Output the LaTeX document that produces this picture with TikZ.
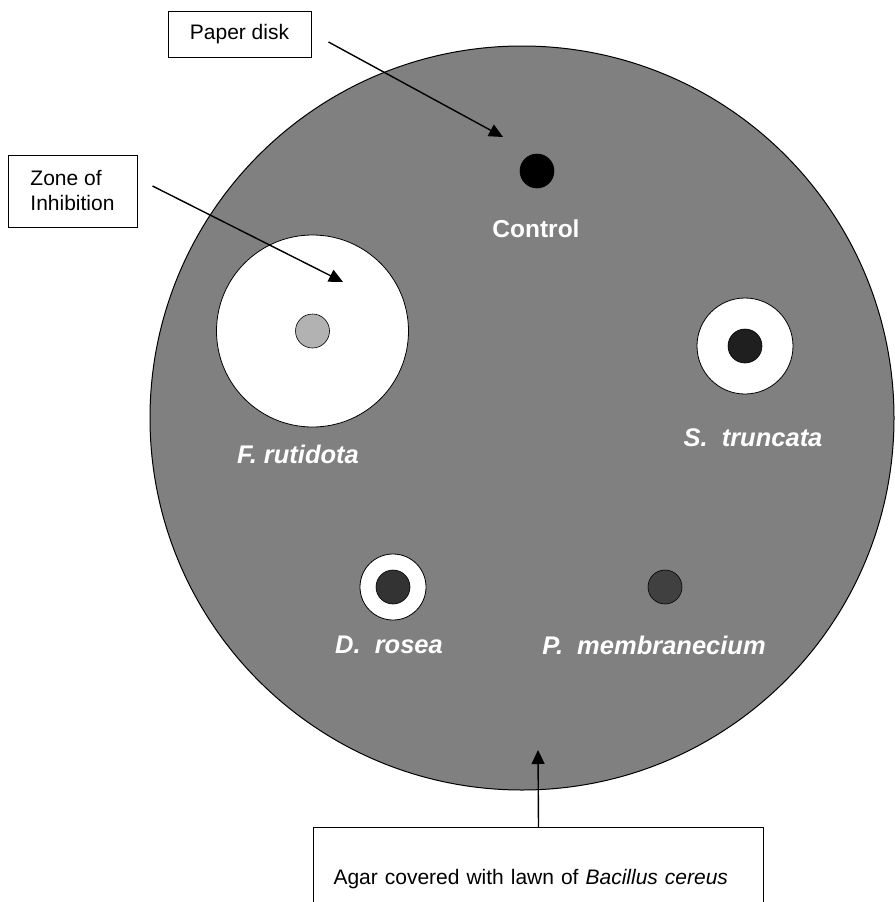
\documentclass[tikz,border=0pt]{standalone}
\usepackage{fontspec}
\setmainfont{Liberation Sans}
\usepackage{tikz}
\usetikzlibrary{arrows.meta,positioning}
\definecolor{agar}{gray}{0.5}

\begin{document}
\begin{tikzpicture}[x=1pt,y=-1pt,
  plate/.style={circle,draw=black,line width=1pt,fill=agar,inner sep=0pt},
  zone/.style={circle,draw=black,line width=0.8pt,fill=white,inner sep=0pt},
  disk/.style={circle,draw=black,line width=0.6pt,inner sep=0pt,minimum size=34pt},
  strain/.style={text=white,font=\fontsize{25.5}{30}\selectfont\bfseries\itshape},
  callout/.style={draw=black,line width=1pt,fill=white,font=\fontsize{21}{25}\selectfont,inner sep=0pt},
  pointer/.style={-{Triangle[length=14pt,width=13pt]},line width=1.4pt}]
\useasboundingbox (0,0) rectangle (894,902);
% Petri plate with lawn
\node[plate,minimum size=744pt] (plate) at (522,418) {};
% Zones of inhibition
\node[zone,minimum size=192pt] (zoneF) at (312.5,331) {};
\node[zone,minimum size=96pt] (zoneS) at (745,346) {};
\node[zone,minimum size=66pt] (zoneD) at (393,587) {};
% Paper disks
\node[disk,fill=black] (ctrl) at (537,171) {};
\node[disk,fill=black!30] (diskF) at (312.5,331) {};
\node[disk,fill=black!88] (diskS) at (745,346) {};
\node[disk,fill=black!80] (diskD) at (393,587) {};
\node[disk,fill=black!75] (diskP) at (665,587) {};
% Labels
\node[strain,font=\fontsize{24.5}{29}\selectfont\bfseries] (ctrlLbl) at (536,229) {Control};
\node[strain] (lblF) at (298,454) {F. rutidota};
\node[strain] (lblS) at (753,438) {S.~~truncata};
\node[strain] (lblD) at (389,645) {D.~~rosea};
\node[strain] (lblP) at (654,645) {P.~~membranecium};
% Callouts
\node[callout,minimum width=143pt,minimum height=46pt] (paper) at (239.5,34) {Paper disk};
\node[callout,minimum width=129pt,minimum height=72pt,align=left] (zoi) at (72.5,191) {Zone of\\Inhibition};
\node[callout,anchor=north west,minimum width=450pt,minimum height=103pt,
  text width=410pt,inner xsep=20pt,align=left] (lawn) at (313,827)
  {Agar covered with lawn of \textit{Bacillus cereus}};
% Pointer arrows
\coordinate (paperTip) at (503,137);
\coordinate (zoiTip) at (343,282);
\coordinate (lawnTip) at (538,750);
\draw[pointer] ([shift={(17,8)}]paper.east) -- (paperTip);
\draw[pointer] ([shift={(15,-5)}]zoi.east) -- (zoiTip);
\draw[pointer] (lawn.north) -- (lawnTip);
\end{tikzpicture}
\end{document}
